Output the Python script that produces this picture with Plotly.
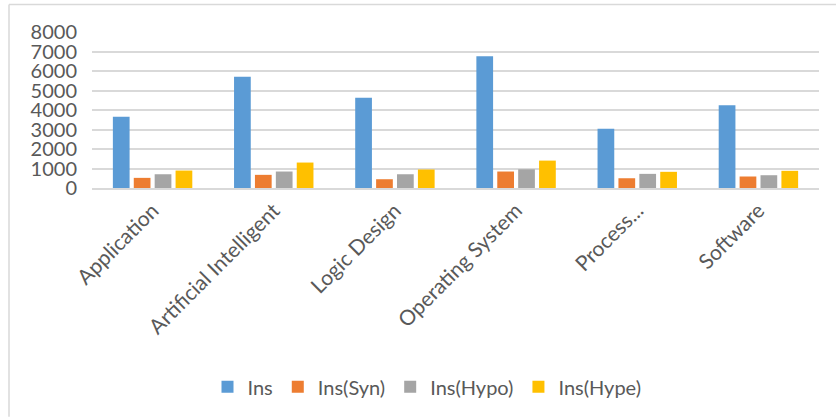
import plotly.graph_objects as go

categories = ["Application", "Artificial Intelligent", "Logic Design",
              "Operating System", "Process...", "Software"]
series_names = ["Ins", "Ins(Syn)", "Ins(Hypo)", "Ins(Hype)"]
ins = [3650, 5700, 4630, 6760, 3040, 4250]
ins_syn = [520, 675, 450, 845, 500, 590]
ins_hypo = [705, 845, 705, 960, 725, 655]
ins_hype = [895, 1305, 950, 1405, 830, 880]
colors = ["#5B9BD5", "#ED7D31", "#A5A5A5", "#FFC000"]
y_ticks = [0, 1000, 2000, 3000, 4000, 5000, 6000, 7000, 8000]

values = [ins, ins_syn, ins_hypo, ins_hype]

fig = go.Figure()
for name, vals, col in zip(series_names, values, colors):
    fig.add_trace(go.Bar(x=categories, y=vals, name=name,
                         marker=dict(color=col, line=dict(width=0))))

W, H = 836, 418
L, R, T, B = 92, 17, 32, 229.5
pw, ph = W - L - R, H - T - B

def px_x(x):
    return (x - L) / pw

def px_y(y):
    return (H - B - y) / ph

font = "Lato, 'Open Sans', sans-serif"
fig.update_layout(
    width=W, height=H,
    margin=dict(l=L, r=R, t=T, b=B, pad=0),
    paper_bgcolor="white", plot_bgcolor="white",
    barmode="group", bargap=0.31, bargroupgap=0.2,
    font=dict(family=font, color="#595959", size=20),
    showlegend=True,
    legend=dict(orientation="h", x=px_x(427), xanchor="center",
                y=px_y(388), yanchor="middle",
                font=dict(size=20, color="#595959"),
                traceorder="normal", itemwidth=30),
    xaxis=dict(type="category", tickangle=-45, showgrid=False,
               showline=True, linecolor="#D9D9D9", linewidth=2,
               ticks="", tickfont=dict(size=21, color="#595959")),
    yaxis=dict(range=[0, 8000], tickvals=y_ticks, showgrid=True,
               gridcolor="#D9D9D9", gridwidth=2, zeroline=False,
               showline=False, ticks="", ticklabelstandoff=14,
               tickfont=dict(size=20, color="#595959")),
    shapes=[
        dict(type="line", xref="paper", yref="paper",
             x0=px_x(9), x1=px_x(836), y0=px_y(4.5), y1=px_y(4.5),
             line=dict(color="#D9D9D9", width=1.5)),
        dict(type="line", xref="paper", yref="paper",
             x0=px_x(9), x1=px_x(9), y0=px_y(4.5), y1=px_y(418),
             line=dict(color="#D9D9D9", width=1.5)),
    ],
)

fig.write_html("out.html")
